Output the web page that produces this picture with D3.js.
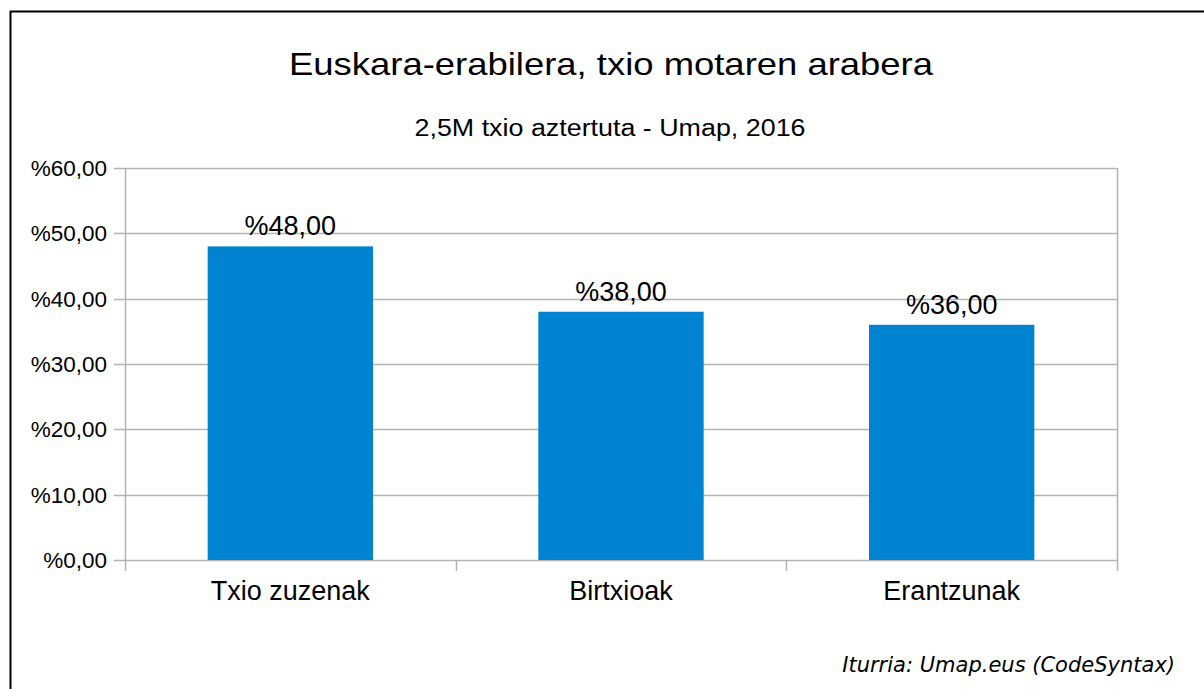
<!DOCTYPE html>
<html><head><meta charset="utf-8">
<script src="https://cdn.jsdelivr.net/npm/d3@7"></script>
<style>body{margin:0;background:#fff}svg{display:block}</style>
</head><body>
<script>
const categories = ["Txio zuzenak", "Birtxioak", "Erantzunak"];
const values = [48, 38, 36];
const yTicks = [0, 10, 20, 30, 40, 50, 60];
const title = "Euskara-erabilera, txio motaren arabera";
const subtitle = "2,5M txio aztertuta - Umap, 2016";
const source = "Iturria: Umap.eus (CodeSyntax)";

const W = 1204, H = 689;
const svg = d3.select("body").append("svg").attr("width", W).attr("height", H);
svg.append("rect").attr("width", W).attr("height", H).attr("fill", "#fff");
// frame
svg.append("path").attr("d", `M10.5,${H+5} V11.5 H${W+5}`).attr("fill", "none").attr("stroke", "#000").attr("stroke-width", 2);

const plot = {l: 125, r: 1117, t: 168, b: 560};
const fmt = v => "%" + d3.format(".2f")(v).replace(".", ",");
const x = d3.scaleBand().domain(categories).range([plot.l, plot.r]).paddingInner(0).paddingOuter(0);
const y = d3.scaleLinear().domain([0, 60]).range([plot.b, plot.t]);
const font = "'Liberation Sans', Arial, sans-serif";

svg.append("text").attr("x", 611).attr("y", 75).attr("text-anchor", "middle")
  .attr("font-family", font).attr("font-size", 32).attr("fill", "#000")
  .attr("textLength", 644).attr("lengthAdjust", "spacingAndGlyphs").text(title);
svg.append("text").attr("x", 610).attr("y", 136).attr("text-anchor", "middle")
  .attr("font-family", font).attr("font-size", 23).attr("fill", "#000")
  .attr("textLength", 391).attr("lengthAdjust", "spacingAndGlyphs").text(subtitle);

// grid
svg.append("g").selectAll("line").data(yTicks).join("line")
  .attr("x1", plot.l - 11).attr("x2", plot.r).attr("y1", d => Math.round(y(d)) + 0.5).attr("y2", d => Math.round(y(d)) + 0.5)
  .attr("stroke", "#b3b3b3").attr("stroke-width", 1.5);
// vertical lines
const vx = categories.map(c => x(c)).concat([plot.r]);
svg.append("g").selectAll("line").data(vx).join("line")
  .attr("x1", d => Math.round(d) + 0.5).attr("x2", d => Math.round(d) + 0.5)
  .attr("y1", (d, i) => (i === 0 || i === vx.length - 1) ? plot.t : plot.b).attr("y2", plot.b + 11)
  .attr("stroke", "#b3b3b3").attr("stroke-width", 1.5);

// y labels
svg.append("g").selectAll("text").data(yTicks).join("text")
  .attr("x", 107).attr("y", d => y(d) + 8).attr("text-anchor", "end")
  .attr("font-family", font).attr("font-size", 22.5).attr("fill", "#000").text(fmt);

// bars
const bw = x.bandwidth() * 0.5;
svg.append("g").selectAll("rect").data(values).join("rect")
  .attr("x", (d, i) => x(categories[i]) + (x.bandwidth() - bw) / 2)
  .attr("width", bw)
  .attr("y", d => y(d)).attr("height", d => plot.b - y(d))
  .attr("fill", "#0084d1");

// value labels
svg.append("g").selectAll("text").data(values).join("text")
  .attr("x", (d, i) => x(categories[i]) + x.bandwidth() / 2)
  .attr("y", d => y(d) - 11).attr("text-anchor", "middle")
  .attr("font-family", font).attr("font-size", 27).attr("fill", "#000").text(fmt);

// category labels
svg.append("g").selectAll("text").data(categories).join("text")
  .attr("x", d => x(d) + x.bandwidth() / 2).attr("y", 600).attr("text-anchor", "middle")
  .attr("font-family", font).attr("font-size", 27).attr("fill", "#000").text(d => d);

svg.append("text").attr("x", 1175).attr("y", 672).attr("text-anchor", "end")
  .attr("font-family", "'DejaVu Sans', sans-serif").attr("font-style", "italic")
  .attr("font-size", 21).attr("fill", "#000").text(source);
</script>
</body></html>
